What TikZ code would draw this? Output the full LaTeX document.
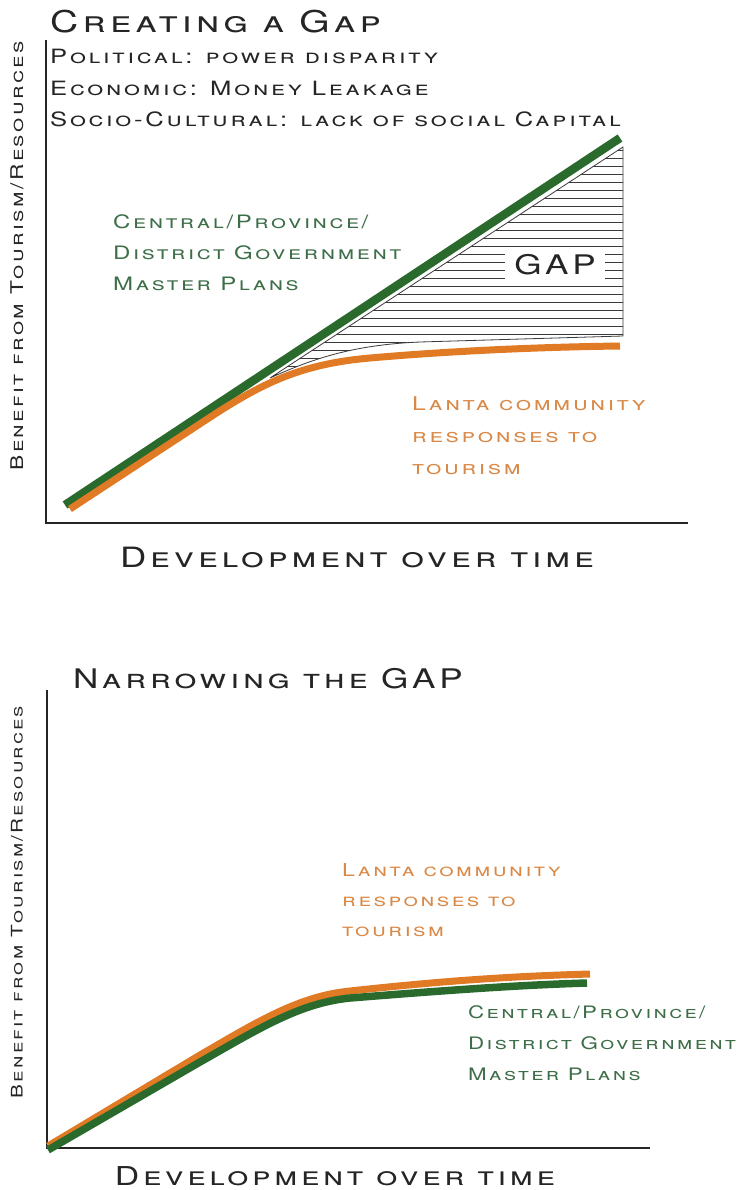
\documentclass[tikz,border=0pt]{standalone}
\usepackage{fontspec}
\setmainfont{TeX Gyre Heros}[LetterSpace=14.0,FakeStretch=1.3]

\definecolor{govgreen}{HTML}{2B6A2D}
\definecolor{lantaorange}{HTML}{E07A24}
\definecolor{govtext}{HTML}{3D6E48}
\definecolor{lantatext}{HTML}{D98947}
\definecolor{inkgray}{HTML}{252525}
\definecolor{hatchgray}{HTML}{3A3A3A}

\tikzset{
  axis/.style={line width=2.4pt, draw=inkgray},
  govline/.style={line width=8.5pt, draw=govgreen},
  lantaline/.style={line width=7pt, draw=lantaorange},
  hatch/.style={line width=0.9pt, draw=hatchgray},
  heading/.style={anchor=base west, inner sep=0pt, text=inkgray, font=\fontsize{30}{32}\selectfont\scshape},
  factor/.style={anchor=base west, inner sep=0pt, text=inkgray, font=\fontsize{19.7}{20}\selectfont\scshape},
  axislabel/.style={inner sep=0pt, text=inkgray, font=\fontsize{17.5}{22}\selectfont\scshape},
  timelabel/.style={anchor=base, inner sep=0pt, text=inkgray, font=\fontsize{28}{30}\selectfont\scshape},
  govlabel/.style={anchor=base west, inner sep=0pt, align=left, text=govtext, font=\fontsize{18.5}{31}\selectfont\scshape},
  lantalabel/.style={anchor=base west, inner sep=0pt, align=left, text=lantatext, font=\fontsize{19}{32}\selectfont\scshape}
}

\begin{document}
\begin{tikzpicture}[x=1pt,y=-1pt]
        \useasboundingbox (0,0) rectangle (737,1190);

        % creating a gap
        \node[heading] (title1) at (50,33) {Creating a Gap};
        \node[factor] (polit) at (50,64) {Political: power disparity};
        \node[factor] (econ) at (50,96) {Economic: Money Leakage};
        \node[factor] (socio) at (50,127) {Socio-Cultural: lack of social Capital};

        \coordinate (ytop1) at (46,40);
        \coordinate (orig1) at (46,523);
        \coordinate (xend1) at (688,523);
        \draw[axis] (ytop1) -- (orig1) -- (xend1);
        \node[axislabel,rotate=90] (ylab1) at (17,256) {Benefit from Tourism/Resources};
        \node[timelabel] (xlab1) at (357,567) {Development over time};

        % the gap between the two curves
        \coordinate (tip) at (270,378);
        \coordinate (gaptop) at (623,147);
        \coordinate (gapbot) at (623,336);
        \begin{scope}
          \clip (tip) -- (gaptop) -- (gapbot) -- (420,342) .. controls (350,345) and (310,360) .. (tip) -- cycle;
          \foreach \yy in {150,158,...,380}
            \draw[hatch] (260,\yy) -- (630,\yy);
        \end{scope}
        \draw[hatch,line width=0.8pt] (tip) -- (gaptop) -- (gapbot) -- (420,342) .. controls (350,345) and (310,360) .. (tip);
        \node[fill=white, inner sep=0pt, minimum width=100pt, minimum height=30pt, text=inkgray,
              font=\fontsize{27}{30}\selectfont] (gaplab) at (555,265) {GAP};

        \draw[govline] (65,505) -- (620,138);
        \draw[lantaline] (70,509) -- (215,414) .. controls (262,384) and (300,364) .. (370,358)
              .. controls (450,351) and (540,347) .. (620,346);

        % base of a multi-line label is its last line
        \node[govlabel] (gov1) at (113,290) {Central/Province/\\District Government\\Master Plans};
        \node[lantalabel] (lanta1) at (412,474) {Lanta community\\responses to\\tourism};

        % narrowing the gap
        \node[heading,font=\fontsize{27}{30}\selectfont\scshape] (title2) at (73,688) {Narrowing the GAP};
        \coordinate (ytop2) at (47,690);
        \coordinate (orig2) at (47,1148);
        \coordinate (xend2) at (650,1148);
        \draw[axis] (ytop2) -- (orig2) -- (xend2);
        \node[axislabel,rotate=90,font=\fontsize{16}{20}\selectfont\scshape] (ylab2) at (17,902) {Benefit from Tourism/Resources};
        \node[timelabel,font=\fontsize{26}{28}\selectfont\scshape] (xlab2) at (335,1185) {Development over time};

        \draw[lantaline] (48,1146) -- (200,1055) .. controls (260,1020) and (300,996) .. (350,991)
              .. controls (450,980) and (520,976) .. (590,974);
        \draw[govline,line width=7.5pt] (48,1150) -- (200,1062) .. controls (260,1028) and (300,1003) .. (350,998)
              .. controls (450,990) and (520,985) .. (587,983);

        \node[lantalabel,font=\fontsize{17.8}{30}\selectfont\scshape] (lanta2) at (342,936) {Lanta community\\responses to\\tourism};
        \node[govlabel,font=\fontsize{17.2}{31}\selectfont\scshape] (gov2) at (468,1080) {Central/Province/\\District Government\\Master Plans};
\end{tikzpicture}
\end{document}
